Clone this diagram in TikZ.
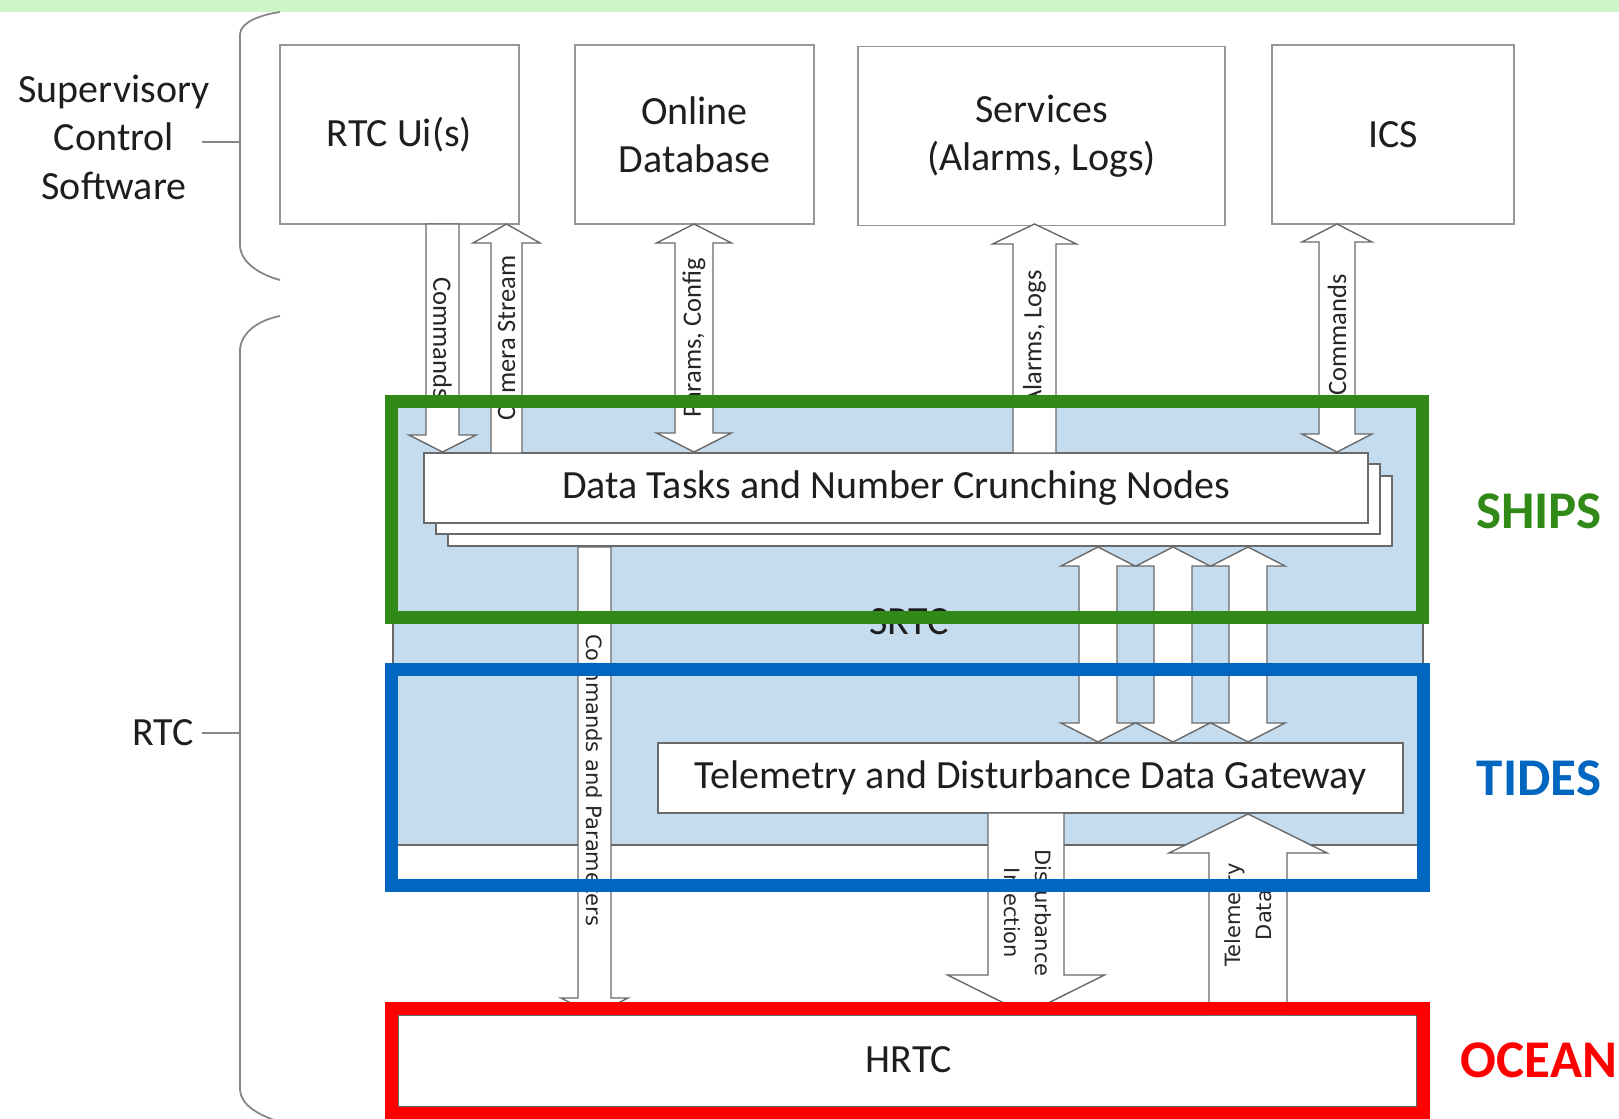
\documentclass[tikz,border=0pt]{standalone}
\usepackage{fontspec}
\setmainfont{Carlito}
\newfontfamily\widesans{DejaVu Sans}

\definecolor{bandgreen}{RGB}{206,245,200}
\definecolor{shipsgreen}{RGB}{49,137,23}
\definecolor{tidesblue}{RGB}{0,102,192}
\definecolor{oceanred}{RGB}{255,0,0}
\definecolor{srtcfill}{RGB}{197,220,239}
\definecolor{boxgrey}{RGB}{150,150,150}
\definecolor{arrowgrey}{RGB}{105,105,105}
\definecolor{inkgrey}{RGB}{30,30,30}

% block arrows: #1 centre x, #2/#3 end y values, #4 half shaft, #5 half head, #6 head length
\newcommand{\downblock}[6]{%
  \draw[blockarrow] ({#1-#4},#2) -- ({#1-#4},{#3-#6}) -- ({#1-#5},{#3-#6}) -- (#1,#3)
    -- ({#1+#5},{#3-#6}) -- ({#1+#4},{#3-#6}) -- ({#1+#4},#2) -- cycle;}
\newcommand{\upblock}[6]{%
  \draw[blockarrow] ({#1-#4},#3) -- ({#1-#4},{#2+#6}) -- ({#1-#5},{#2+#6}) -- (#1,#2)
    -- ({#1+#5},{#2+#6}) -- ({#1+#4},{#2+#6}) -- ({#1+#4},#3) -- cycle;}
\newcommand{\dblblock}[6]{%
  \draw[blockarrow] (#1,#2) -- ({#1+#5},{#2+#6}) -- ({#1+#4},{#2+#6}) -- ({#1+#4},{#3-#6})
    -- ({#1+#5},{#3-#6}) -- (#1,#3) -- ({#1-#5},{#3-#6}) -- ({#1-#4},{#3-#6})
    -- ({#1-#4},{#2+#6}) -- ({#1-#5},{#2+#6}) -- cycle;}

\begin{document}
\begin{tikzpicture}[x=0.5pt,y=-0.5pt,
  every node/.style={text=inkgrey},
  bracket/.style={draw=boxgrey!90!black, line width=0.9pt},
  mainfont/.style={font=\fontsize{20}{24.2}\selectfont},
  topbox/.style={draw=boxgrey, line width=0.9pt, fill=white, inner sep=0pt, mainfont, align=center},
  layerbox/.style={draw=arrowgrey, line width=0.9pt, fill=white, inner sep=0pt,
    minimum width=472pt, minimum height=35pt},
  blockarrow/.style={draw=arrowgrey, line width=0.7pt, fill=white, line join=miter},
  flowlabel/.style={font=\fontsize{13.25}{15}\selectfont, inner sep=0pt, text=black!85},
  widelabel/.style={font=\widesans\fontsize{10.5}{15.5}\selectfont, inner sep=0pt, align=center, text=black!85},
  zone/.style={line width=6.5pt},
  zonename/.style={font=\bfseries\fontsize{26.5}{30}\selectfont}
]
\useasboundingbox (0,0) rectangle (1619,1119);
\fill[bandgreen] (0,0) rectangle (1619,12);

% side brackets and their captions
\draw[bracket] (280,12) .. controls (260,15) and (241,22) .. (240,34) -- (240,246)
  .. controls (241,262) and (258,274) .. (280,280);
\draw[bracket] (280,316) .. controls (259,320) and (241,332) .. (240,350) -- (240,1090)
  .. controls (241,1105) and (258,1115) .. (280,1122);
\node[mainfont, align=center, inner sep=0pt] (sup) at (114,137) {Supervisory\\Control\\Software};
\node[mainfont, inner sep=0pt] (rtc) at (163,733) {RTC};
\coordinate (supjoin) at (240,142);
\coordinate (rtcjoin) at (240,733);
\draw[bracket] ([xshift=-19pt]supjoin) -- (supjoin);
\draw[bracket] ([xshift=-19pt]rtcjoin) -- (rtcjoin);

% supervisory software boxes
\node[topbox, minimum width=119.5pt, minimum height=89.5pt] (ui) at (399.5,134.5) {RTC Ui(s)};
\node[topbox, minimum width=119.5pt, minimum height=89.5pt] (db) at (694.5,134.5) {Online\\Database};
\node[topbox, minimum width=183.5pt, minimum height=89.5pt] (svc) at (1041.5,136) {Services\\(Alarms, Logs)};
\node[topbox, minimum width=121pt, minimum height=89.5pt] (ics) at (1393,134.5) {ICS};

% soft real-time area
\node[draw=arrowgrey, line width=0.7pt, fill=srtcfill, inner sep=0pt,
  minimum width=515pt, minimum height=222.5pt] (srtc) at (908,622.5) {};
\node[mainfont, inner sep=0pt] (srtclabel) at (909,622) {SRTC};

% stacked processing nodes
\node[layerbox] (layer3) at (920,511) {};
\node[layerbox] (layer2) at (908,499) {};
\node[layerbox, mainfont] (tasks) at (896,488) {Data Tasks and Number Crunching Nodes};

% gateway and hard real-time box
\node[layerbox, mainfont, minimum width=372.5pt] (gateway) at (1030.5,778)
  {Telemetry and Disturbance Data Gateway};
\node[layerbox, mainfont, minimum width=509.5pt, minimum height=46pt] (hrtc) at (907.5,1061) {};

% flows between supervisory software and SRTC
\downblock{442.5}{224}{452}{16.5}{33.5}{17}
\upblock{506.5}{224}{453}{15.5}{33.5}{19}
\dblblock{694}{224}{452}{19}{37.5}{19}
\upblock{1034.5}{224}{453}{21.5}{42}{20}
\dblblock{1337}{224}{452}{18}{35}{18}

% flows between processing nodes and gateway
\dblblock{1098}{547}{742}{19}{37}{19}
\dblblock{1173}{547}{742}{19}{37}{19}
\dblblock{1248}{547}{742}{19}{37}{19}

% flows to and from HRTC
\downblock{594.5}{547}{1015}{16.5}{33.5}{17}
\downblock{1026}{813}{1014}{38}{78.5}{39}
\upblock{1248}{814}{1015}{39}{79}{39}

% flow labels
\node[flowlabel, rotate=-90] (lcmd) at (442.5,338) {Commands};
\node[flowlabel, rotate=90] (lcam) at (506.5,338) {Camera Stream};
\node[flowlabel, rotate=90] (lpar) at (694,338) {Params, Config};
\node[flowlabel, rotate=90] (lalm) at (1034.5,338) {Alarms, Logs};
\node[flowlabel, rotate=90] (lics) at (1337,335) {Commands};
\node[widelabel, rotate=-90] (lcp) at (594.5,780) {Commands and Parameters};
\node[widelabel, rotate=-90] (ldist) at (1026,913) {Disturbance\\Injection};
\node[widelabel, rotate=90] (ltel) at (1248,915) {Telemetry\\Data};

\node[mainfont, inner sep=0pt] (hrtclabel) at (909,1060) {HRTC};

% highlighted subsystems
\draw[zone, draw=shipsgreen] (391.5,401.5) rectangle (1422.5,617.5);
\draw[zone, draw=tidesblue] (391.5,669) rectangle (1423.5,885.5);
\draw[zone, draw=oceanred] (391.5,1008.5) rectangle (1423.5,1113);

\node[zonename, text=shipsgreen] (ships) at (1539,511) {SHIPS};
\node[zonename, text=tidesblue] (tides) at (1539,778) {TIDES};
\node[zonename, text=oceanred] (ocean) at (1539,1060) {OCEAN};
\end{tikzpicture}
\end{document}
